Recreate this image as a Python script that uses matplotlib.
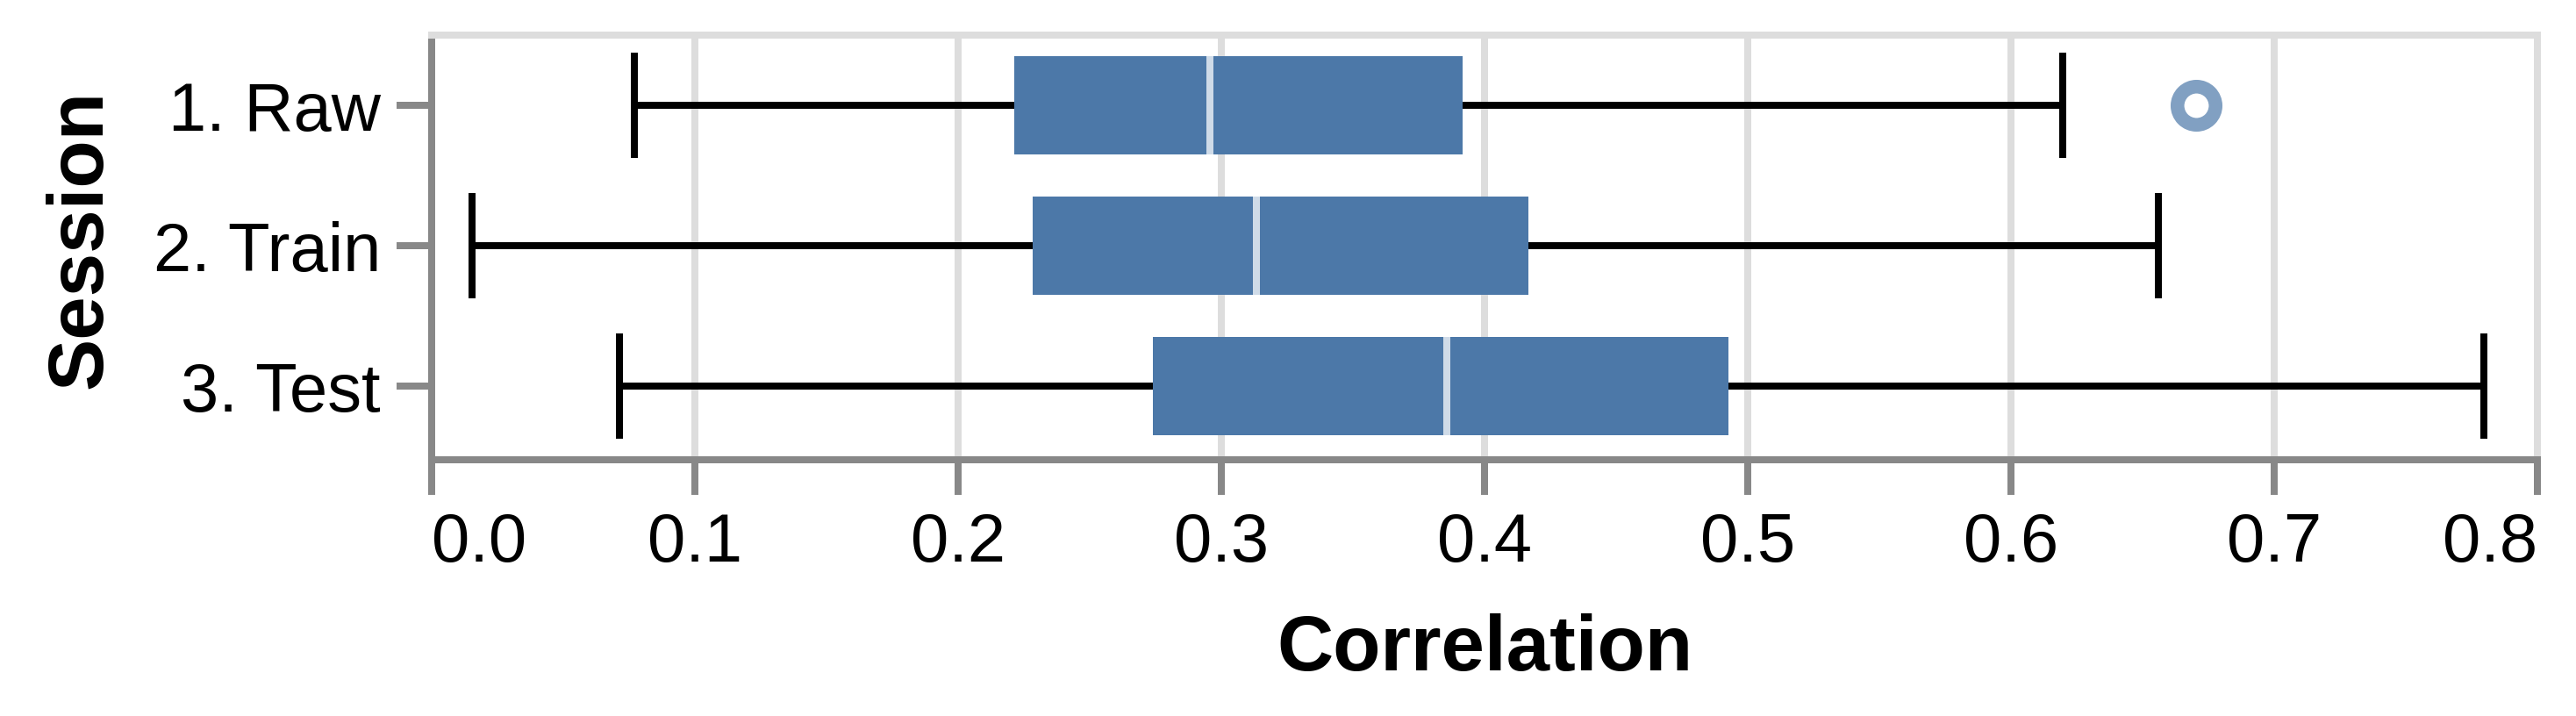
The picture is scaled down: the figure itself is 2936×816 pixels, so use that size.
import matplotlib
matplotlib.use('Agg')
import matplotlib.pyplot as plt
from matplotlib.ticker import FormatStrFormatter

plt.rcParams['font.family'] = ['Liberation Sans', 'DejaVu Sans']

sessions = ['1. Raw', '2. Train', '3. Test']
whisker_low = [0.0769, 0.0152, 0.0713]
q1 = [0.2214, 0.2283, 0.2740]
median = [0.2957, 0.3133, 0.3856]
q3 = [0.3917, 0.4166, 0.4925]
whisker_high = [0.6195, 0.6559, 0.7795]
outliers = [[0.6703], [], []]
x_ticks = [0.0, 0.1, 0.2, 0.3, 0.4, 0.5, 0.6, 0.7, 0.8]

box_color = '#4c78a8'
lw = 5.76  # 8 px at dpi 100

stats = []
for i, s in enumerate(sessions):
    stats.append(dict(label=s, whislo=whisker_low[i], q1=q1[i], med=median[i],
                      q3=q3[i], whishi=whisker_high[i], fliers=outliers[i]))

fig = plt.figure(figsize=(29.36, 8.16), dpi=100)
ax = fig.add_axes([492 / 2936, 1 - 524 / 816, 2400 / 2936, 484 / 816])

ax.bxp(stats, positions=range(len(sessions)), orientation='horizontal',
       widths=0.70, capwidths=0.745, patch_artist=True,
       boxprops=dict(facecolor=box_color, edgecolor='none', linewidth=0),
       medianprops=dict(color='#cfdbe8', linewidth=lw, solid_capstyle='butt'),
       whiskerprops=dict(color='black', linewidth=lw, solid_capstyle='butt'),
       capprops=dict(color='black', linewidth=lw, solid_capstyle='butt'),
       flierprops=dict(marker='o', markerfacecolor='none', markeredgecolor=box_color,
                       alpha=0.7, markersize=31.3, markeredgewidth=11.2))

ax.set_xlim(0, 0.8)
ax.set_ylim(2.525, -0.5)
ax.set_xticks(x_ticks)
ax.xaxis.set_major_formatter(FormatStrFormatter('%.1f'))
ax.set_axisbelow(True)
ax.xaxis.grid(True, color='#dddddd', linewidth=lw)

for side in ['left', 'bottom']:
    ax.spines[side].set_color('#888888')
    ax.spines[side].set_linewidth(lw)
for side in ['top', 'right']:
    ax.spines[side].set_color('#dddddd')
    ax.spines[side].set_linewidth(lw)

ax.tick_params(axis='both', length=28.8, width=lw, color='#888888', labelsize=56)
ax.tick_params(axis='x', pad=14)
ax.tick_params(axis='y', pad=13)

# first / last x labels flush with the axis ends
xlabels = ax.get_xticklabels()
xlabels[0].set_horizontalalignment('left')
xlabels[-1].set_horizontalalignment('right')

ax.set_xlabel('Correlation', fontsize=64, fontweight='bold')
ax.xaxis.set_label_coords(0.5, -0.362)
ax.set_ylabel('Session', fontsize=64, fontweight='bold')
ax.yaxis.set_label_coords(-0.149, 0.5186)

fig.savefig('out.png', dpi=100)
